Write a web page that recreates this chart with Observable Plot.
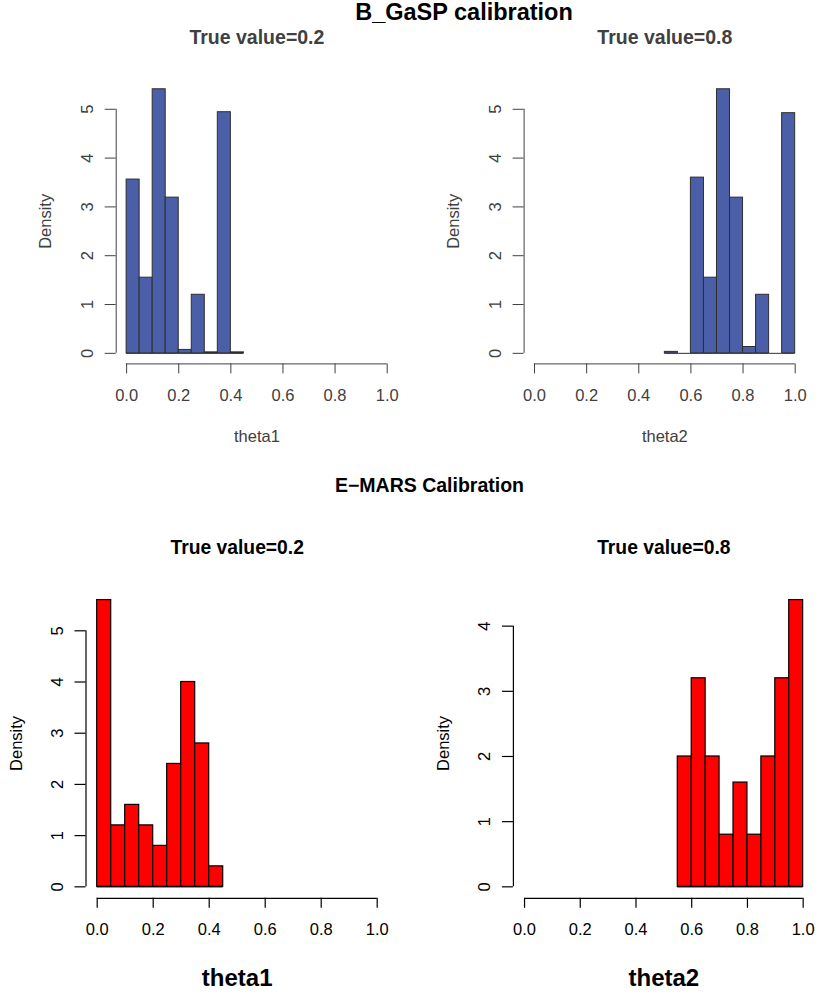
<!DOCTYPE html>
<html><head><meta charset="utf-8">
<script src="https://cdn.jsdelivr.net/npm/d3@7"></script>
<script src="https://cdn.jsdelivr.net/npm/@observablehq/plot@0.6"></script>
<style>
body{margin:0;background:#fff;}
#fig{position:relative;width:817px;height:993px;font-family:"Liberation Sans",Arial,sans-serif;overflow:hidden;background:#fff;}
.panel{position:absolute;}
.main{position:absolute;font-weight:bold;white-space:nowrap;line-height:1;transform:translateX(-50%);color:#000;}
</style></head>
<body><div id="fig">
<div class="main" style="left:464px;top:0.6px;font-size:23.5px">B_GaSP calibration</div>
<div class="main" style="left:429.5px;top:476.2px;font-size:19.5px">E−MARS Calibration</div>
</div>
<script>
// ---- data ----
const xTicks = [0, 0.2, 0.4, 0.6, 0.8, 1.0];
const gaspYTicks = [0, 1, 2, 3, 4, 5];
const emarsTheta1YTicks = [0, 1, 2, 3, 4, 5];
const emarsTheta2YTicks = [0, 1, 2, 3, 4];

const gaspTheta1Edges = [0, 0.05, 0.10, 0.15, 0.20, 0.25, 0.30, 0.35, 0.40, 0.45];
const gaspTheta1Density = [3.56, 1.55, 5.41, 3.19, 0.07, 1.20, 0.02, 4.94, 0.02];

const gaspTheta2Edges = [0.50, 0.55, 0.60, 0.65, 0.70, 0.75, 0.80, 0.85, 0.90, 0.95, 1.00];
const gaspTheta2Density = [0.03, 0, 3.60, 1.55, 5.41, 3.19, 0.13, 1.20, 0, 4.92];

const emarsTheta1Edges = [0, 0.05, 0.10, 0.15, 0.20, 0.25, 0.30, 0.35, 0.40, 0.45];
const emarsTheta1Density = [5.6, 1.2, 1.6, 1.2, 0.8, 2.4, 4.0, 2.8, 0.4];

const emarsTheta2Edges = [0.55, 0.60, 0.65, 0.70, 0.75, 0.80, 0.85, 0.90, 0.95, 1.00];
const emarsTheta2Density = [2.0, 3.2, 2.0, 0.8, 1.6, 0.8, 2.0, 3.2, 4.4];

const titles = ["True value=0.2", "True value=0.8"];
const xLabels = ["theta1", "theta2"];
const yLabel = "Density";

// ---- drawing ----
function panel(cfg) {
  const bins = cfg.density.map((d, i) => ({x1: cfg.edges[i], x2: cfg.edges[i + 1], y: d}));
  const yMax = d3.max(cfg.density);
  const xDomain = [-0.04, 1.04];
  const yDomain = [-0.04 * yMax, 1.04 * yMax];
  const chart = Plot.plot({
    width: cfg.width, height: cfg.height,
    marginLeft: cfg.ml, marginRight: cfg.mr, marginTop: cfg.mt, marginBottom: cfg.mb,
    x: {domain: xDomain},
    y: {domain: yDomain},
    style: {fontFamily: '"Liberation Sans", Arial, sans-serif', fontSize: "16.5px", color: cfg.ink, background: "transparent", overflow: "visible"},
    marks: [
      Plot.ruleY(bins, {x1: "x1", x2: "x2", y: 0, stroke: cfg.barStroke, strokeWidth: cfg.sw}),
      Plot.rect(bins, {x1: "x1", x2: "x2", y1: 0, y2: "y", fill: cfg.fill, stroke: cfg.barStroke, strokeWidth: cfg.sw}),
      Plot.ruleY([yDomain[0]], {x1: xTicks[0], x2: xTicks[xTicks.length - 1], stroke: cfg.ink, strokeWidth: cfg.aw}),
      Plot.ruleX([xDomain[0]], {y1: cfg.yTicks[0], y2: cfg.yTicks[cfg.yTicks.length - 1], stroke: cfg.ink, strokeWidth: cfg.aw}),
      Plot.axisX(xTicks, {tickSize: 10, tickPadding: 15, tickFormat: d3.format(".1f"), fontSize: 16.5, fontWeight: cfg.tickWeight, label: null, strokeWidth: cfg.aw}),
      Plot.axisY(cfg.yTicks, {tickSize: 11, tickPadding: 12, tickRotate: -90, tickFormat: d => String(d), fontSize: 16.5, fontWeight: cfg.tickWeight, label: null, strokeWidth: cfg.aw}),
      Plot.text([cfg.title], {text: d => d, frameAnchor: "top", lineAnchor: "bottom", dy: cfg.titleDy, fontSize: cfg.titleSize, fontWeight: "bold"}),
      Plot.text([cfg.xLabel], {text: d => d, frameAnchor: "bottom", lineAnchor: "bottom", dy: cfg.xlDy, fontSize: cfg.xlSize, fontWeight: cfg.xlWeight}),
      Plot.text([yLabel], {text: d => d, frameAnchor: "left", textAnchor: "middle", lineAnchor: "bottom", rotate: -90, dx: cfg.ylDx, fontSize: 16.5, fontWeight: cfg.tickWeight})
    ]
  });
  const wrap = document.createElement("div");
  wrap.className = "panel";
  wrap.style.left = cfg.left + "px";
  wrap.style.top = cfg.top + "px";
  wrap.appendChild(chart);
  document.getElementById("fig").appendChild(wrap);
}

const topStyle = {fill: "#4a5fa8", barStroke: "#2e2e2e", ink: "#404040", sw: 1, aw: 1, tickWeight: "normal", titleSize: 19.5, titleDy: -34.2, xlSize: 16.5, xlWeight: "normal", xlDy: 78.3};
const botStyle = {fill: "#ff0000", barStroke: "#000", ink: "#000", sw: 1.2, aw: 1.2, tickWeight: "normal", titleSize: 19.3, titleDy: -34.8, xlSize: 24, xlWeight: "bold", xlDy: 87.2};

panel({...topStyle, edges: gaspTheta1Edges, density: gaspTheta1Density, yTicks: gaspYTicks, title: titles[0], xLabel: xLabels[0],
  left: 0, top: 0, width: 408, height: 460, ml: 115.7, mr: 10.9, mt: 78.2, mb: 96.6, ylDx: -65});
panel({...topStyle, edges: gaspTheta2Edges, density: gaspTheta2Density, yTicks: gaspYTicks, title: titles[1], xLabel: xLabels[1],
  left: 408, top: 0, width: 409, height: 460, ml: 115.6, mr: 11.9, mt: 78.2, mb: 96.6, ylDx: -65});
panel({...botStyle, edges: emarsTheta1Edges, density: emarsTheta1Density, yTicks: emarsTheta1YTicks, title: titles[0], xLabel: xLabels[0],
  left: 0, top: 460, width: 408, height: 533, ml: 85.5, mr: 20.1, mt: 128.1, mb: 95.2, ylDx: -64});
panel({...botStyle, edges: emarsTheta2Edges, density: emarsTheta2Density, yTicks: emarsTheta2YTicks, title: titles[1], xLabel: xLabels[1],
  left: 408, top: 460, width: 409, height: 533, ml: 104.9, mr: 3.2, mt: 128.1, mb: 95.2, ylDx: -64});
</script>
</body></html>
